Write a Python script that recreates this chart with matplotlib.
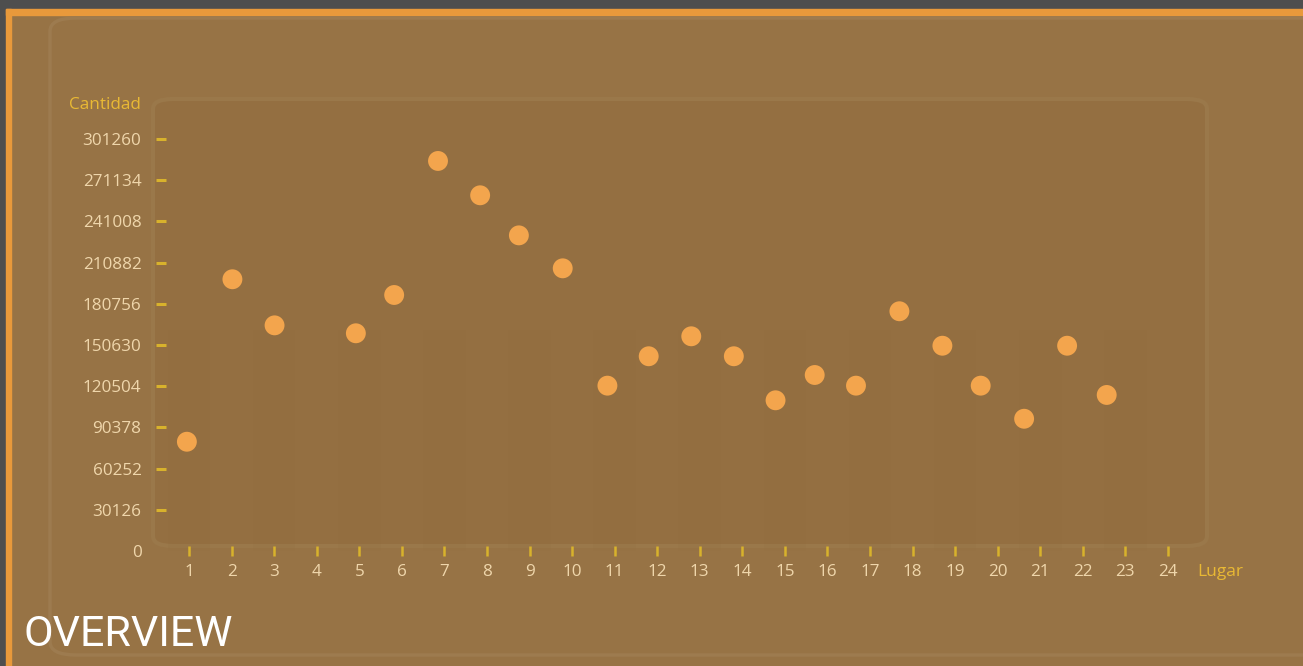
import matplotlib
matplotlib.use("Agg")
import matplotlib.pyplot as plt
from matplotlib.patches import FancyBboxPatch, Rectangle

# data
lugar = [0.95, 2.02, 3.01, 4.92, 5.82, 6.85, 7.84, 8.75, 9.78, 10.83, 11.80,
         12.80, 13.80, 14.78, 15.70, 16.67, 17.69, 18.70, 19.60, 20.62, 21.63, 22.56]
cantidad = [79900, 198700, 165000, 159200, 187200, 285200, 260100, 230800, 206700,
            120900, 142400, 157000, 142400, 110200, 128700, 120900, 175300, 150100,
            120900, 96700, 150100, 114100]
x_ticks = list(range(1, 25))
y_ticks = [0, 30126, 60252, 90378, 120504, 150630, 180756, 210882, 241008, 271134, 301260]
# faint background columns behind the dots
fondo_x = [1, 3, 5, 7, 9, 11, 13, 15, 17, 19, 21, 23]
fondo_h = [161600] * len(fondo_x)

W, H = 1303, 666
BG = "#977345"
TICK_C = "#d8b22c"
LABEL_C = "#efd6ab"
TITLE_C = "#e9b934"
DOT_C = "#f3a54d"

plt.rcParams["font.family"] = ["Open Sans", "DejaVu Sans"]

fig = plt.figure(figsize=(W / 100, H / 100), dpi=100, facecolor=BG)

def box(x0, y0, x1, y1):
    # pixel box (top-left origin) -> figure fraction
    return x0 / W, 1 - y1 / H, (x1 - x0) / W, (y1 - y0) / H

# frame decorations
for (x0, y0, x1, y1), c in [((0, 0, W, 9), "#4e4e4e"), ((0, 0, 6, H), "#4e4e4e"),
                            ((6, 9, W, 15), "#e8993b"), ((6, 9, 11, H), "#e8993b")]:
    l, b, w, h = box(x0, y0, x1, y1)
    fig.patches.append(Rectangle((l, b), w, h, transform=fig.transFigure,
                                 color=c, zorder=0))

l, b, w, h = box(50, 18, 1330, 655)
fig.patches.append(FancyBboxPatch((l, b), w, h, boxstyle="round,pad=0,rounding_size=0.02",
                                  transform=fig.transFigure, facecolor=BG,
                                  edgecolor="#9d7b4f", lw=2.5, zorder=0))
l, b, w, h = box(153, 99, 1207, 546)
fig.patches.append(FancyBboxPatch((l, b), w, h, boxstyle="round,pad=0,rounding_size=0.015",
                                  transform=fig.transFigure, facecolor="#946f41",
                                  edgecolor="#9a784a", lw=3, zorder=0))

# axes: left 166px, right 1208px, top 98px, bottom 556px
ax = fig.add_axes([166 / W, 1 - 556 / H, 1042 / W, 458 / H])
ax.set_zorder(1)
ax.patch.set_visible(False)

ax.bar(fondo_x, fondo_h, width=1.0, color="#8f6b3e", alpha=0.1, zorder=1)
ax.scatter(lugar, cantidad, s=205, color=DOT_C, edgecolors="none", zorder=3)

ax.set_xlim(0.4596, 24.94)
ax.set_ylim(-3656, 331239)
ax.set_xticks(x_ticks)
ax.set_yticks(y_ticks)
ax.set_yticklabels([str(v) for v in y_ticks])
for s in ax.spines.values():
    s.set_visible(False)

ax.tick_params(axis="y", direction="out", length=7.2, width=2.2, color=TICK_C,
               labelcolor=LABEL_C, labelsize=12.3, pad=10.5)
ax.tick_params(axis="x", direction="in", length=7.2, width=1.8, color=TICK_C,
               labelcolor=LABEL_C, labelsize=12.3, pad=6)
ax.yaxis.get_major_ticks()[0].tick1line.set_visible(False)

fig.text(141 / W, 1 - 105 / H, "Cantidad", color=TITLE_C, fontsize=12.3,
         ha="right", va="center")
fig.text(1197 / W, 1 - 572 / H, "Lugar", color=TITLE_C, fontsize=12.5,
         ha="left", va="center")
fig.text(24 / W, 1 - 635 / H, "OVERVIEW", color="white", fontsize=31,
         family=["Roboto", "DejaVu Sans"], fontweight="normal", ha="left", va="center")

fig.savefig("out.png", dpi=100, facecolor=BG)
